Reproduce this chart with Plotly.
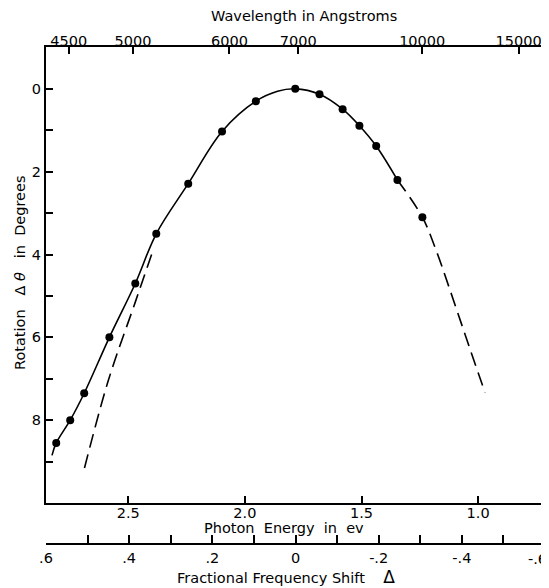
import plotly.graph_objects as go

# measured points: photon energy (eV) and rotation (degrees)
energy = [2.809, 2.749, 2.689, 2.581, 2.470, 2.380, 2.243, 2.098, 1.953,
          1.784, 1.680, 1.581, 1.509, 1.437, 1.346, 1.239]
rotation = [8.55, 8.0, 7.35, 6.0, 4.7, 3.5, 2.29, 1.03, 0.30,
            0.0, 0.13, 0.49, 0.89, 1.38, 2.20, 3.10]

# solid curve through the points
fit_e = [2.827, 2.809, 2.749, 2.689, 2.581, 2.470, 2.380, 2.243, 2.098,
         1.953, 1.860, 1.784, 1.680, 1.581, 1.509, 1.437, 1.346]
fit_rot = [8.85, 8.55, 8.0, 7.35, 6.0, 4.7, 3.5, 2.29, 1.03,
           0.30, 0.06, 0.0, 0.13, 0.49, 0.89, 1.38, 2.20]

# dashed curves
dash_left_e = [2.40, 2.47, 2.586, 2.693]
dash_left_rot = [4.0, 5.15, 7.05, 9.27]
dash_right_e = [1.346, 1.239, 1.18, 1.124, 1.053, 0.970]
dash_right_rot = [2.20, 3.10, 3.9, 4.8, 5.98, 7.34]

wavelengths = [4500, 5000, 6000, 7000, 10000, 15000]
energy_ticks = [2.5, 2.0, 1.5, 1.0]
energy_labels = ["2.5", "2.0", "1.5", "1.0"]
shift_ticks = [0.6, 0.4, 0.2, 0, -0.2, -0.4, -0.6]
shift_labels = [".6", ".4", ".2", "0", "-.2", "-.4", "-.6"]
shift_minor = [0.5, 0.3, 0.1, -0.1, -0.3, -0.5]
rot_ticks = [0, 2, 4, 6, 8]
rot_minor = [1, 3, 5, 7, 9]

HC = 12398.0   # eV * Angstrom
E0 = 1.783     # photon energy at zero frequency shift
e_range = [E0 * 1.6, E0 * 0.4]

FONT = "DejaVu Sans"
black = "black"
NB = "\u00a0"

fig = go.Figure()
fig.add_trace(go.Scatter(x=fit_e, y=fit_rot, mode="lines",
                         line=dict(color=black, width=1.6, shape="spline")))
fig.add_trace(go.Scatter(x=dash_left_e, y=dash_left_rot, mode="lines",
                         line=dict(color=black, width=1.6, shape="spline", dash="14px,7px")))
fig.add_trace(go.Scatter(x=dash_right_e, y=dash_right_rot, mode="lines",
                         line=dict(color=black, width=1.6, shape="spline", dash="14px,7px")))
fig.add_trace(go.Scatter(x=energy, y=rotation, mode="markers",
                         marker=dict(color=black, size=8)))
# invisible helpers so the extra axes get drawn
fig.add_trace(go.Scatter(x=[HC / w for w in wavelengths], y=[0] * len(wavelengths),
                         xaxis="x2", mode="markers", marker=dict(opacity=0), hoverinfo="skip"))
fig.add_trace(go.Scatter(x=shift_ticks, y=[0] * len(shift_ticks),
                         xaxis="x3", mode="markers", marker=dict(opacity=0), hoverinfo="skip"))

axis_common = dict(showgrid=False, zeroline=False, showline=True, linecolor=black,
                   ticks="inside", tickcolor=black, tickwidth=1.5, automargin=False,
                   ticklabelposition="outside", ticklabeloverflow="allow",
                   tickfont=dict(family=FONT, size=14.5, color=black))

# last label sits on the right edge, it is drawn separately (right-aligned)
shift_text = shift_labels[:-1] + [""]

# the page sits 8px in from the window corner, so the figure is 8px smaller
W, H = 541, 580
ML, MR, MT, MB = 38, 4, 39, 44
fig.update_layout(
    width=W, height=H,
    margin=dict(l=ML, r=MR, t=MT, b=MB),
    paper_bgcolor="white", plot_bgcolor="white",
    showlegend=False,
    font=dict(family=FONT, color=black),
    xaxis=dict(axis_common, range=e_range, anchor="y", linewidth=2, mirror=True,
               tickmode="array", tickvals=energy_ticks, ticktext=energy_labels, ticklen=7,
               ticklabelstandoff=-4),
    xaxis2=dict(axis_common, range=e_range, overlaying="x", side="top", anchor="y",
                linewidth=2, tickmode="array", tickvals=[HC / w for w in wavelengths],
                ticktext=[str(w) for w in wavelengths], ticklen=7, ticklabelstandoff=-7),
    xaxis3=dict(axis_common, range=[0.6, -0.6], overlaying="x", anchor="free", position=0,
                side="bottom", linewidth=1.5, tickmode="array", tickvals=shift_ticks,
                ticktext=shift_text, ticklen=8, ticklabelstandoff=1,
                minor=dict(tickmode="array", tickvals=shift_minor, ticks="inside",
                           ticklen=8, tickwidth=1.5, tickcolor=black)),
    yaxis=dict(axis_common, domain=[0.0825, 1], range=[10.0, -1.01], linewidth=2, mirror=True,
               side="left", tickmode="array", tickvals=rot_ticks, ticklen=7,
               minor=dict(tickmode="array", tickvals=rot_minor, ticks="inside",
                          ticklen=7, tickwidth=1.5, tickcolor=black)),
)

# axis titles placed in page pixels (converted to paper units)
pw = W - ML - MR
ph = H - MT - MB


def px_x(p):
    return (p - 8 - ML) / pw


def px_y(p):
    return (H - MB - (p - 8)) / ph


titles = [
    ("Wavelength in Angstroms", 304, 16, 0),
    (NB.join(["Photon", "", "Energy", "", "in", "", "ev"]), 284, 528, 0),
    ("Fractional" + NB + "Frequency" + NB + "Shift" + NB * 4 +
     "<span style='font-size:17px'>Δ</span>", 286, 577, 0),
    ("Rotation" + NB * 3 + "Δ" + NB + "<i>θ</i>" + NB * 3 + "in" + NB * 2 + "Degrees", 20, 273, -90),
]
for text, x, y, ang in titles:
    fig.add_annotation(text=text, x=px_x(x), y=px_y(y), xref="paper", yref="paper",
                       xanchor="center", yanchor="middle", showarrow=False, textangle=ang,
                       font=dict(family=FONT, size=14.5, color=black))

# right-most fractional shift label
fig.add_annotation(text=shift_labels[-1], x=shift_ticks[-1], xref="x3", y=px_y(559), yref="paper",
                   xanchor="right", yanchor="middle", xshift=4, showarrow=False,
                   font=dict(family=FONT, size=14.5, color=black))

fig.write_html("out.html")
